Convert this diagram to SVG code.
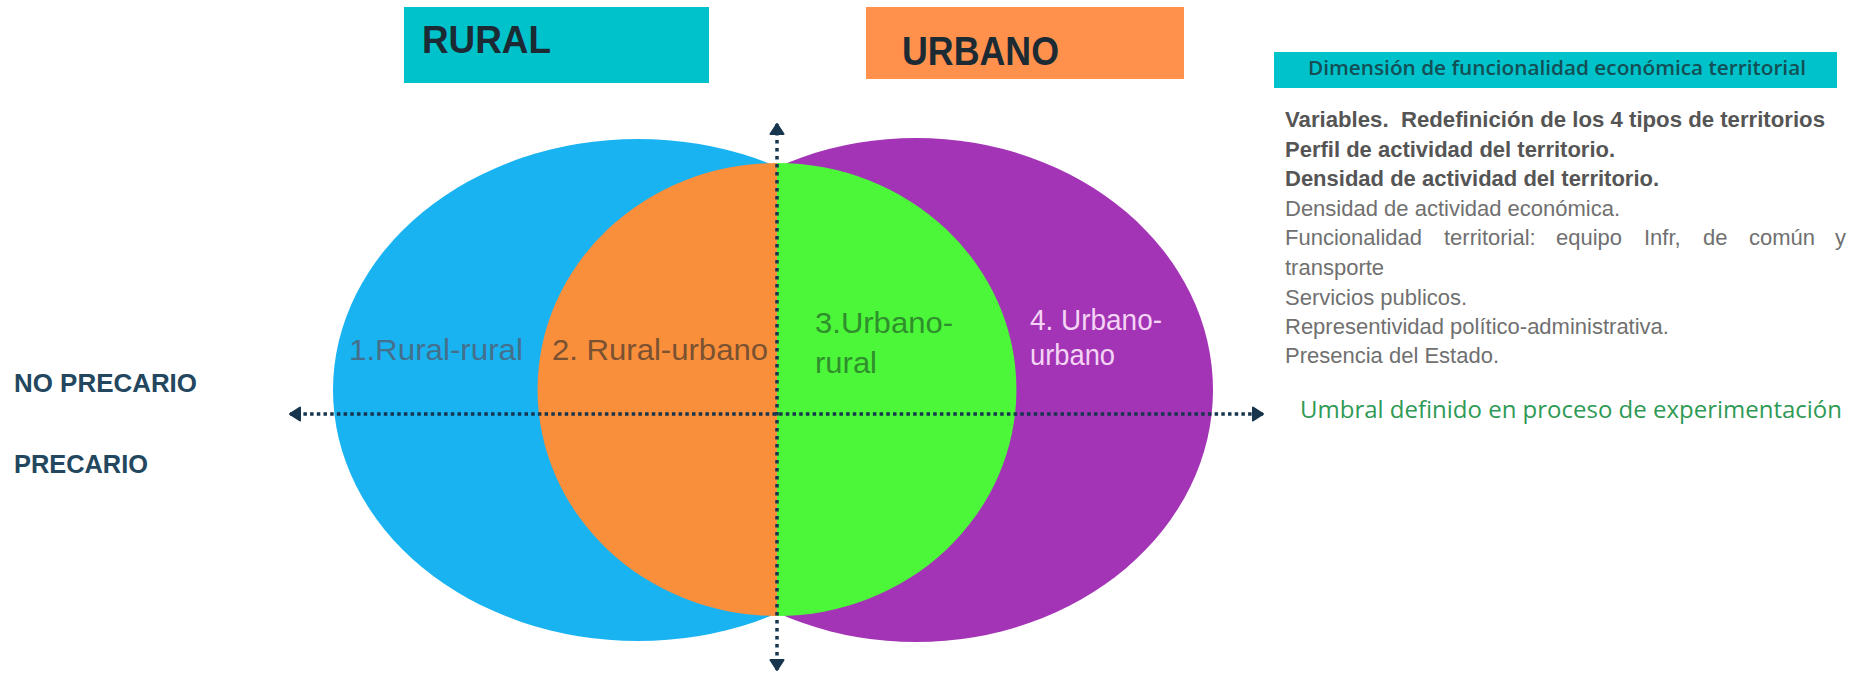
<svg xmlns="http://www.w3.org/2000/svg" width="1857" height="674" viewBox="0 0 1857 674">
<style>
.hdr{font-family:"Liberation Sans",Arial,sans-serif;font-weight:bold;fill:#1b2a33}
.zone{font-family:"Liberation Sans",Arial,sans-serif;font-size:29px}
.side{font-family:"Liberation Sans",Arial,sans-serif;font-weight:bold;font-size:26px;fill:#22475e}
.var{font-family:"Liberation Sans",Arial,sans-serif;font-size:22px;white-space:pre}
.b{font-weight:bold;fill:#555555}
.r{fill:#707070}
.axis{fill:none;stroke:#17354d;stroke-width:3.5}
</style>
<defs>
<marker id="arrow" viewBox="0 0 12 16" refX="11" refY="8" markerWidth="12" markerHeight="16" markerUnits="userSpaceOnUse" orient="auto-start-reverse">
<path d="M1,1.5 L11,8 L1,14.5 Z" fill="#17354d" stroke="#17354d" stroke-width="2" stroke-linejoin="round"/>
</marker>
</defs>
<rect width="1857" height="674" fill="#ffffff"/>

<g id="rural-header">
<rect x="404" y="7" width="305" height="76" fill="#00c2cb"/>
<text class="hdr" x="422" y="53" font-size="39" textLength="129" lengthAdjust="spacingAndGlyphs">RURAL</text>
</g>
<g id="urbano-header">
<rect x="866" y="7" width="318" height="72" fill="#ff914d"/>
<text class="hdr" x="902" y="65" font-size="41" textLength="157" lengthAdjust="spacingAndGlyphs">URBANO</text>
</g>

<g id="rural-ellipse">
<ellipse cx="638" cy="390" rx="305" ry="251" fill="#1ab3f2"/>
</g>
<g id="urbano-ellipse">
<ellipse cx="916" cy="390" rx="297" ry="252" fill="#a334b6"/>
</g>
<g id="rural-urbano-half">
<path d="M777,163 A239,226 0 0 0 777,616 Z" fill="#f98e3b"/>
</g>
<g id="urbano-rural-half">
<path d="M777,163 A239,226 0 0 1 777,616 Z" fill="#4cf73a"/>
</g>

<g id="label-1">
<text class="zone" x="349" y="360" fill="#44708c" textLength="174" lengthAdjust="spacingAndGlyphs">1.Rural-rural</text>
</g>
<g id="label-2">
<text class="zone" x="552" y="360" fill="#7a5232" textLength="216" lengthAdjust="spacingAndGlyphs">2. Rural-urbano</text>
</g>
<g id="label-3">
<text class="zone" x="815" y="333" fill="#2f8f2c" textLength="138" lengthAdjust="spacingAndGlyphs">3.Urbano-</text>
<text class="zone" x="815" y="373" fill="#2f8f2c" textLength="62" lengthAdjust="spacingAndGlyphs">rural</text>
</g>
<g id="label-4">
<text class="zone" x="1030" y="330" fill="#f4d4f4" textLength="132" lengthAdjust="spacingAndGlyphs">4. Urbano-</text>
<text class="zone" x="1030" y="365" fill="#f4d4f4" textLength="85" lengthAdjust="spacingAndGlyphs">urbano</text>
</g>

<g id="connectors">
<line class="axis" x1="290" y1="414" x2="1263" y2="414" stroke-dasharray="3.5 3.2" marker-start="url(#arrow)" marker-end="url(#arrow)"/>
<line class="axis" x1="777" y1="124" x2="777" y2="670" stroke-dasharray="3.5 4.5" marker-start="url(#arrow)" marker-end="url(#arrow)"/>
</g>

<g id="no-precario">
<text class="side" x="14" y="392" textLength="183" lengthAdjust="spacingAndGlyphs">NO PRECARIO</text>
</g>
<g id="precario">
<text class="side" x="14" y="473" textLength="134" lengthAdjust="spacingAndGlyphs">PRECARIO</text>
</g>

<g id="dimension-header">
<rect x="1274" y="52" width="563" height="36" fill="#00c2cb"/>
<text x="1308" y="75" font-family="'Open Sans','Liberation Sans',sans-serif" font-size="19" font-weight="600" fill="#134f54" textLength="498" lengthAdjust="spacingAndGlyphs">Dimensión de funcionalidad económica territorial</text>
</g>

<g id="variables">
<text class="var b" x="1285" y="127" textLength="540" lengthAdjust="spacingAndGlyphs">Variables.  Redefinición de los 4 tipos de territorios</text>
<text class="var b" x="1285" y="157">Perfil de actividad del territorio.</text>
<text class="var b" x="1285" y="186">Densidad de actividad del territorio.</text>
<text class="var r" x="1285" y="216">Densidad de actividad económica.</text>
<text class="var r" y="245"><tspan x="1285">Funcionalidad</tspan><tspan x="1444">territorial:</tspan><tspan x="1556">equipo</tspan><tspan x="1644">Infr,</tspan><tspan x="1703">de</tspan><tspan x="1749">común</tspan><tspan x="1835">y</tspan></text>
<text class="var r" x="1285" y="275">transporte</text>
<text class="var r" x="1285" y="305">Servicios publicos.</text>
<text class="var r" x="1285" y="334">Representividad político-administrativa.</text>
<text class="var r" x="1285" y="363">Presencia del Estado.</text>
</g>

<g id="umbral">
<text x="1300" y="418" font-family="'Open Sans','Liberation Sans',sans-serif" font-size="23" font-weight="500" fill="#2f9a55" textLength="542" lengthAdjust="spacingAndGlyphs">Umbral definido en proceso de experimentación</text>
</g>
</svg>
